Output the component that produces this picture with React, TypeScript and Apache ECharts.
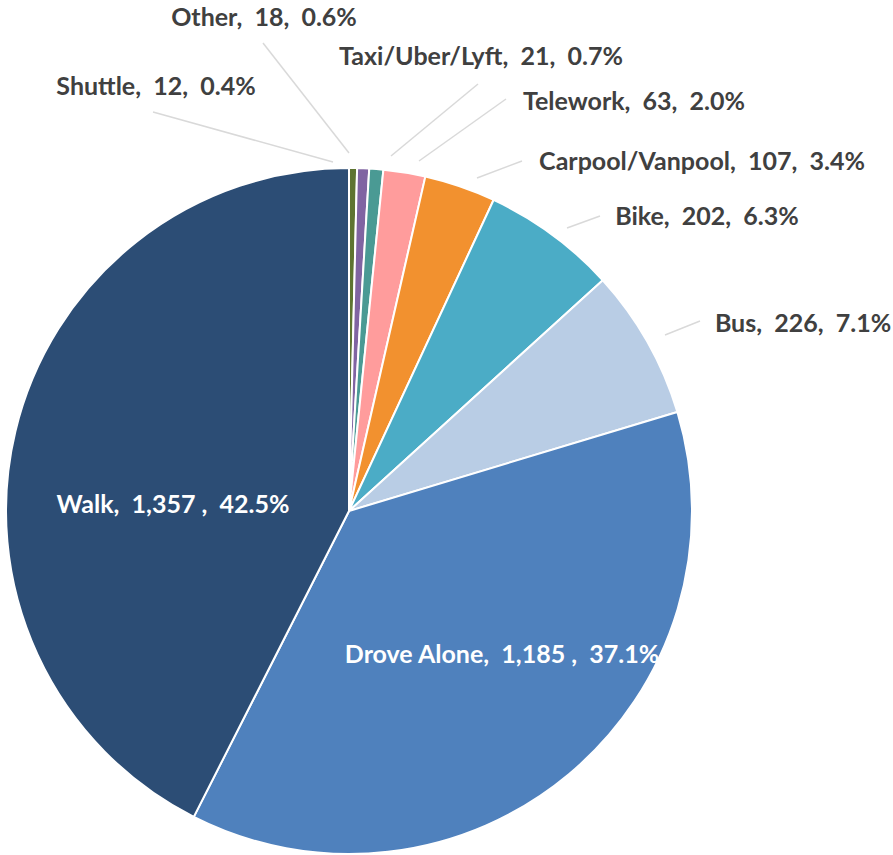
import React, { useEffect, useRef } from "react";
import * as echarts from "echarts";

const categories = ["Shuttle", "Other", "Taxi/Uber/Lyft", "Telework", "Carpool/Vanpool", "Bike", "Bus", "Drove Alone", "Walk"];
const values = [12, 18, 21, 63, 107, 202, 226, 1185, 1357];
const colors = ["#5E7431", "#8064A2", "#4A9A94", "#FF9C9C", "#F2912F", "#4BACC6", "#B9CDE5", "#4F81BD", "#2C4D75"];
const insideLabels = ["Drove Alone", "Walk"];

// label layout (centre of text) and leader line points
const labelPos: Record<string, [number, number]> = {
  "Shuttle": [156, 85],
  "Other": [264, 16],
  "Taxi/Uber/Lyft": [481, 55],
  "Telework": [634, 100],
  "Carpool/Vanpool": [702, 160],
  "Bike": [707, 215],
  "Bus": [803, 322],
  "Drove Alone": [502, 653],
  "Walk": [173, 503],
};
const linePts: Record<string, number[][]> = {
  "Shuttle": [[153, 112], [333, 162]],
  "Other": [[263, 43], [349, 153]],
  "Taxi/Uber/Lyft": [[478, 84], [391, 156]],
  "Telework": [[506, 99], [419, 161]],
  "Carpool/Vanpool": [[522, 161], [477, 178]],
  "Bike": [[600, 216], [567, 228]],
  "Bus": [[700, 321], [665, 335]],
};

const total = values.reduce((a, b) => a + b, 0);
const fmt = (v: number) => v.toLocaleString("en-US");

export default function App() {
  const ref = useRef<HTMLDivElement>(null);
  useEffect(() => {
    if (!ref.current) return;
    const chart = echarts.init(ref.current, null, { renderer: "svg" });
    const data = categories.map((name, i) => {
      const inside = insideLabels.includes(name);
      return {
        name,
        value: values[i],
        itemStyle: { color: colors[i] },
        label: { color: inside ? "#FFFFFF" : "#404040" },
        labelLine: { show: !inside },
      };
    });
    chart.setOption({
      animation: false,
      backgroundColor: "#FFFFFF",
      series: [
        {
          type: "pie",
          center: [349, 511],
          radius: [0, 343],
          startAngle: 90,
          clockwise: true,
          avoidLabelOverlap: false,
          data,
          itemStyle: { borderColor: "#FFFFFF", borderWidth: 2 },
          label: {
            show: true,
            position: "outside",
            fontFamily: "Lato",
            fontWeight: "bold",
            fontSize: 25,
            formatter: (p: any) => {
              const v = p.value as number;
              const pct = ((v / total) * 100).toFixed(1) + "%";
              const sp = v >= 1000 ? " " : "";
              return `${p.name},\u00A0 ${fmt(v)}${sp},\u00A0 ${pct}`;
            },
          },
          labelLine: {
            show: true,
            lineStyle: { color: "#D9D9D9", width: 1.5 },
          },
          labelLayout: (params: any) => {
            const name = categories[params.dataIndex];
            const pos = labelPos[name];
            const res: any = { x: pos[0], y: pos[1], align: "center", verticalAlign: "middle" };
            if (linePts[name]) res.labelLinePoints = linePts[name];
            return res;
          },
        },
      ],
    });
    return () => chart.dispose();
  }, []);
  return (
    <div
      ref={ref}
      style={{ position: "fixed", left: 0, top: 0, width: 893, height: 855, background: "#fff" }}
    />
  );
}
